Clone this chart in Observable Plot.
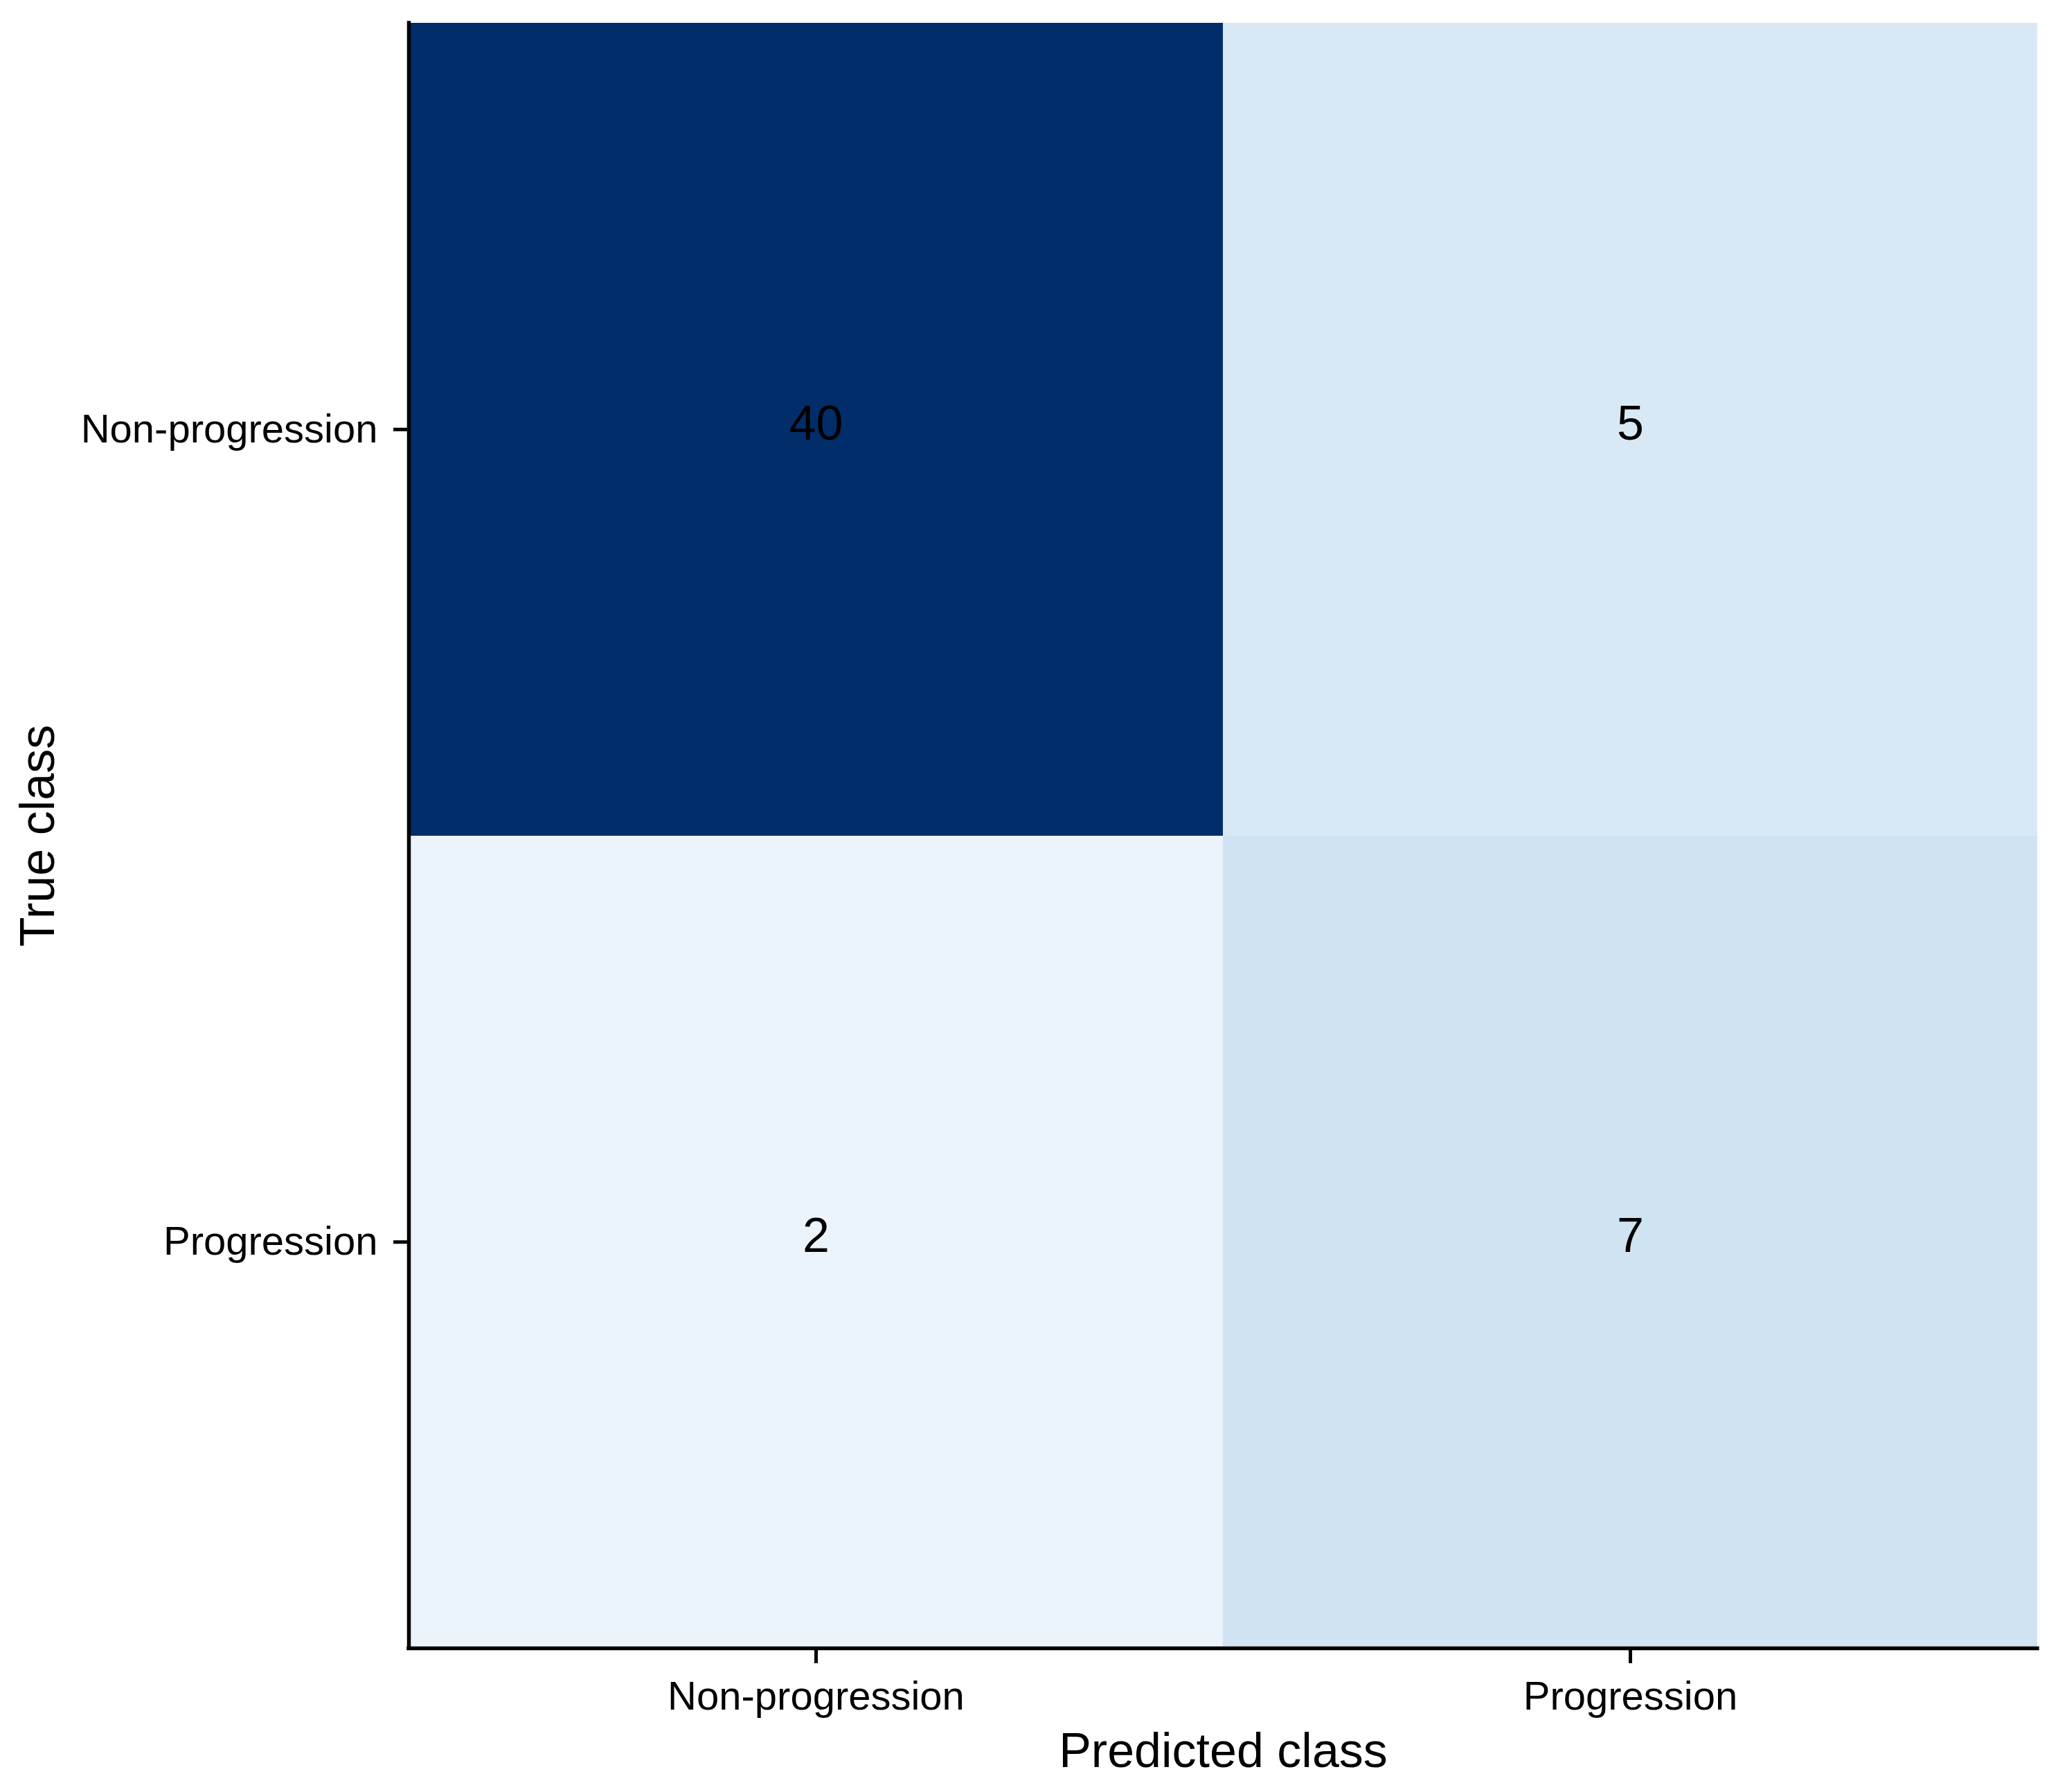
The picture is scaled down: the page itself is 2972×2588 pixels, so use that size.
<!DOCTYPE html>
<html>
<head>
<meta charset="utf-8">
<script src="https://cdn.jsdelivr.net/npm/d3@7"></script>
<script src="https://cdn.jsdelivr.net/npm/@observablehq/plot@0.6"></script>
<style>
  html, body { margin: 0; padding: 0; background: #ffffff; }
  svg { display: block; }
</style>
</head>
<body>
<div id="chart"></div>
<script>
// Confusion matrix data
const classes = ["Non-progression", "Progression"];
const trueClass = ["Non-progression", "Non-progression", "Progression", "Progression"];
const predictedClass = ["Non-progression", "Progression", "Non-progression", "Progression"];
const counts = [40, 5, 2, 7];
const xTitle = "Predicted class";
const yTitle = "True class";

const cells = counts.map((v, i) => ({
  row: classes.indexOf(trueClass[i]),
  col: classes.indexOf(predictedClass[i]),
  value: v
}));
const tickPositions = classes.map((c, i) => i + 0.5);
const fmt = t => classes[Math.floor(t)];

const font = "'Liberation Sans', Arial, Helvetica, sans-serif";

const chart = Plot.plot({
  width: 2972,
  height: 2588,
  marginLeft: 590,
  marginRight: 30,
  marginTop: 33,
  marginBottom: 208,
  style: { fontFamily: font, background: "#ffffff", color: "#000000" },
  x: { domain: [0, classes.length], axis: null },
  y: { domain: [0, classes.length], reverse: true, axis: null },
  color: {
    type: "linear",
    domain: [0, 5, 10, 15, 20, 25, 30, 35, 40],
    range: ["#f7fbff","#d9e8f5","#c0dbee","#9ecae1","#6baed6","#4292c6","#2171b5","#08519c","#022d6b"],
    interpolate: "rgb"
  },
  marks: [
    Plot.rect(cells, {
      x1: "col", x2: d => d.col + 1,
      y1: "row", y2: d => d.row + 1,
      fill: "value",
      shapeRendering: "crispEdges"
    }),
    Plot.text(cells, {
      x: d => d.col + 0.5,
      y: d => d.row + 0.5,
      text: d => String(d.value),
      fill: "#000000",
      fontSize: 70,
      lineAnchor: "middle",
      dy: -8
    }),
    Plot.axisX({
      anchor: "bottom",
      ticks: tickPositions,
      tickFormat: fmt,
      tickSize: 22,
      tickPadding: 25,
      strokeWidth: 5,
      fontSize: 58,
      label: null,
      stroke: "#000000",
      fill: "#000000"
    }),
    Plot.axisY({
      anchor: "left",
      ticks: tickPositions,
      tickFormat: fmt,
      tickSize: 22,
      tickPadding: 23,
      strokeWidth: 5,
      fontSize: 58,
      label: null,
      stroke: "#000000",
      fill: "#000000"
    }),
    Plot.ruleX([0], { stroke: "#000000", strokeWidth: 5.5, strokeLinecap: "square" }),
    Plot.ruleY([classes.length], { stroke: "#000000", strokeWidth: 5.5, strokeLinecap: "square" }),
    Plot.text([xTitle], {
      frameAnchor: "bottom",
      text: d => d,
      fontSize: 70,
      fill: "#000000",
      textAnchor: "middle",
      lineAnchor: "middle",
      dy: 149
    }),
    Plot.text([yTitle], {
      frameAnchor: "left",
      text: d => d,
      fontSize: 70,
      fill: "#000000",
      rotate: -90,
      textAnchor: "middle",
      lineAnchor: "middle",
      dx: -535
    })
  ]
});
document.getElementById("chart").appendChild(chart);
</script>
</body>
</html>
